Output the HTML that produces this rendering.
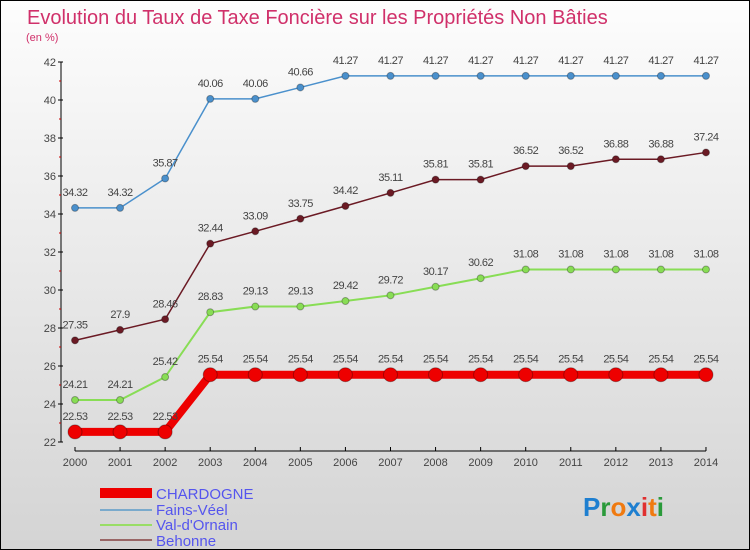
<!DOCTYPE html>
<html><head><meta charset="utf-8"><style>
body{margin:0}
#c{width:748px;height:548px;border:1px solid #000;background:linear-gradient(#fdfdfd,#d4d4d4);position:relative;overflow:hidden;font-family:"Liberation Sans",sans-serif}
</style></head><body>
<div id="c">
<svg id="s" width="748" height="548">
<text x="26" y="23" font-size="20" fill="#d0306a">Evolution du Taux de Taxe Foncière sur les Propriétés Non Bâties</text>
<text x="25" y="40" font-size="11" fill="#d0306a">(en %)</text>
<g id="axes"></g><g id="series"></g>
<g>
<rect x="99" y="487" width="52" height="10" fill="#e00"/>
<text x="155" y="498" font-size="15" fill="#5555ee">CHARDOGNE</text>
<rect x="99" y="508" width="52" height="2" fill="#7aaacc"/>
<text x="155" y="514" font-size="15" fill="#5555ee">Fains-Véel</text>
<rect x="99" y="523" width="52" height="2" fill="#99dd66"/>
<text x="155" y="529" font-size="15" fill="#5555ee">Val-d'Ornain</text>
<rect x="99" y="538" width="52" height="2" fill="#996666"/>
<text x="155" y="545" font-size="15" fill="#5555ee">Behonne</text>
</g>
<text x="582" y="515" font-size="26" font-weight="bold"><tspan fill="#1e7fd0">P</tspan><tspan fill="#2a9a3a">r</tspan><tspan fill="#f07a10">o</tspan><tspan fill="#1e7fd0">x</tspan><tspan fill="#e03030">i</tspan><tspan fill="#f07a10">t</tspan><tspan fill="#2a9a3a">i</tspan></text>
</svg></div>
<script>
const years=[2000,2001,2002,2003,2004,2005,2006,2007,2008,2009,2010,2011,2012,2013,2014];
const chardogne=[22.53,22.53,22.53,25.54,25.54,25.54,25.54,25.54,25.54,25.54,25.54,25.54,25.54,25.54,25.54];
const fains=[34.32,34.32,35.87,40.06,40.06,40.66,41.27,41.27,41.27,41.27,41.27,41.27,41.27,41.27,41.27];
const valOrnain=[24.21,24.21,25.42,28.83,29.13,29.13,29.42,29.72,30.17,30.62,31.08,31.08,31.08,31.08,31.08];
const behonne=[27.35,27.9,28.46,32.44,33.09,33.75,34.42,35.11,35.81,35.81,36.52,36.52,36.88,36.88,37.24];
const yTicks=[22,24,26,28,30,32,34,36,38,40,42];
const NS="http://www.w3.org/2000/svg";
const X=i=>74+i*45.07, Y=v=>441-(v-22)*19;
function mk(p,t,a){const e=document.createElementNS(NS,t);for(const k in a)e.setAttribute(k,a[k]);p.appendChild(e);return e;}
const ax=document.getElementById('axes');
mk(ax,'line',{x1:60,y1:Y(42),x2:60,y2:Y(22),stroke:'#000'});
mk(ax,'line',{x1:X(0),y1:450,x2:X(14),y2:450,stroke:'#000'});
yTicks.forEach(v=>{mk(ax,'line',{x1:57,y1:Y(v),x2:62,y2:Y(v),stroke:'#000'});
mk(ax,'line',{x1:58,y1:Y(v+1),x2:60,y2:Y(v+1),stroke:'#c00'}).style.display=v<42?'':'none';
const t=mk(ax,'text',{x:55,y:Y(v)+4,'font-size':11,'text-anchor':'end',fill:'#444'});t.textContent=v;

});
years.forEach((yr,i)=>{mk(ax,'line',{x1:X(i),y1:446,x2:X(i),y2:450,stroke:'#000'});
const t=mk(ax,'text',{x:X(i),y:465,'font-size':11,'text-anchor':'middle',fill:'#444'});t.textContent=yr;

});
const sg=document.getElementById('series');
function draw(d,col,w,r,name){const g=mk(sg,'g',{});


mk(g,'polyline',{points:d.map((v,i)=>X(i)+','+Y(v)).join(' '),fill:'none',stroke:col,'stroke-width':w});
d.forEach((v,i)=>{const c=mk(g,'circle',{cx:X(i),cy:Y(v),r:r,fill:col,stroke:'rgba(0,0,0,0.3)'});


const t=mk(g,'text',{x:X(i),y:Y(v)-12,'font-size':11,'text-anchor':'middle',fill:'#444','letter-spacing':'-0.5'});t.textContent=v;});}
draw(fains,'#4a90cc',1.5,3.5,'fains');
draw(behonne,'#6b1a24',1.5,3.5,'behonne');
draw(valOrnain,'#88dd55',2,3.5,'val-ornain');
draw(chardogne,'#ee0000',8,7,'chardogne');
</script>
</body></html>
